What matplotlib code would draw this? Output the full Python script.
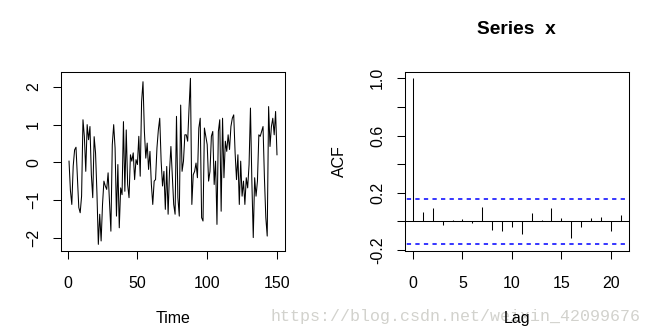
import numpy as np
import matplotlib
matplotlib.use("Agg")
import matplotlib.pyplot as plt

plt.rcParams['font.family'] = ['Liberation Sans', 'DejaVu Sans']

# simulated series x, one value per time step
x_values = [
    0.03, -0.75, -1.12, -0.10, 0.33, 0.40, -0.42, -1.20, -1.34, -0.90,
    1.13, 0.68, -0.24, 1.00, 0.60, 0.95, -0.33, -0.94, 0.68, 0.25,
    -0.81, -2.18, -1.38, -2.09, -1.12, -0.50, -0.63, -0.72, -0.28, -1.03,
    -1.83, 0.47, 1.00, 0.38, -1.43, -0.06, -1.74, -0.68, -0.86, 1.08,
    -0.77, 0.86, -0.59, -0.94, 0.20, 0.03, 0.25, -0.46, 0.07, -0.06,
    0.69, -0.37, 1.61, 2.14, 0.82, 0.11, 0.51, -0.19, 0.29, -0.59,
    -1.12, -0.50, -0.46, 0.38, 0.86, 1.17, 0.03, -0.63, -0.24, -1.25,
    -0.11, -1.38, -0.24, 0.42, -0.33, -1.12, -1.38, 1.22, -0.94, -1.43,
    1.52, -0.24, 0.03, 0.73, 0.73, 0.56, 1.44, 2.23, -1.12, -0.33,
    -0.24, -0.02, -0.41, 0.91, 1.17, -1.47, -1.56, 0.91, 0.69, 0.47,
    -0.50, -0.24, 0.69, 0.82, -0.59, 0.03, -1.65, 0.82, 1.13, -1.30,
    1.17, -0.41, 0.56, 0.29, 0.73, 0.34, 0.95, 1.17, 1.26, 0.25,
    -0.46, 0.20, -1.12, 0.03, -0.90, -0.50, -1.12, -0.41, -0.68, -0.06,
    1.44, -0.50, -2.00, -0.41, -0.90, -0.50, 0.73, 0.69, 0.82, 0.95,
    -0.41, -1.47, -1.96, 1.48, 0.42, 0.95, 1.17, 0.73, 1.35, 0.20,
]
time_index = np.arange(1, len(x_values) + 1)

# sample autocorrelation of x, lags 0..21
lags = list(range(22))
acf_values = [
    1.0, 0.063, 0.093, -0.023, 0.009, 0.016, -0.009, 0.100, -0.060, -0.067,
    -0.037, -0.086, 0.058, 0.009, 0.093, 0.023, -0.114, -0.037, 0.023, 0.033,
    -0.065, 0.047,
]
conf_bound = 0.16

left_xticks = [0, 50, 100, 150]
left_yticks = [-2, -1, 0, 1, 2]
right_xticks = [0, 5, 10, 15, 20]
right_yticks = [-0.2, 0.0, 0.2, 0.4, 0.6, 0.8, 1.0]
right_ylabels = ["-0.2", "", "0.2", "", "0.6", "", "1.0"]

W, H = 652, 334
fig = plt.figure(figsize=(W / 100, H / 100), dpi=100)

FS = 11.5
LW = 0.75
BLUE = '#0000FF'


def px_axes(x0, y0, x1, y1):
    return fig.add_axes([x0 / W, 1 - y1 / H, (x1 - x0) / W, (y1 - y0) / H])


def r_range(lo, hi):
    span = hi - lo
    return lo - 0.04 * span, hi + 0.04 * span


def style(ax):
    for s in ax.spines.values():
        s.set_linewidth(LW)
    ax.tick_params(length=5.9, width=LW, labelsize=FS, colors='black')
    ax.tick_params(axis='x', pad=12)
    ax.tick_params(axis='y', pad=8.2)
    for lab in ax.get_yticklabels():
        lab.set_rotation(90)
        lab.set_va('center')


# time plot
ax1 = px_axes(60.7, 71.7, 285.3, 251)
ax1.plot(time_index, x_values, color='black', lw=LW)
ax1.set_xlim(*r_range(time_index[0], time_index[-1]))
ax1.set_ylim(*r_range(min(x_values), max(x_values)))
ax1.set_xticks(left_xticks)
ax1.set_yticks(left_yticks)
style(ax1)

# ACF plot
ax2 = px_axes(404.7, 71.7, 629, 251)
ax2.vlines(lags, 0, acf_values, color='black', lw=LW)
ax2.axhline(0, color='black', lw=LW)
ax2.hlines([conf_bound, -conf_bound], -5, 30, colors=BLUE, lw=1.1,
           linestyles=[(0, (2.8, 2.8))], zorder=3)
ax2.set_xlim(*r_range(lags[0], lags[-1]))
ax2.set_ylim(*r_range(min(-conf_bound, min(acf_values)), 1.0))
ax2.set_xticks(right_xticks)
ax2.set_yticks(right_yticks)
ax2.set_yticklabels(right_ylabels)
style(ax2)

# blog watermark along the bottom
fig.text(270.7 / W, 1 - 320.7 / H, "https://blog.csdn.net/weixin_42099676",
         family='Liberation Mono', fontsize=12.0, color='#d2d2cd',
         ha='left', va='baseline', zorder=0)

# titles and axis labels
fig.text(516.8 / W, 1 - 34 / H, "Series  x", fontsize=13.8,
         fontweight='bold', ha='center', va='baseline')
fig.text(173 / W, 1 - 323.4 / H, "Time", fontsize=FS, ha='center', va='baseline')
fig.text(516.8 / W, 1 - 323.4 / H, "Lag", fontsize=FS, ha='center',
         va='baseline', zorder=5)
fig.text(346.5 / W, 1 - 161.3 / H, "ACF", fontsize=FS, rotation=90,
         ha='right', va='center')
fig.text(4 / W, 1 - 161.3 / H, "x", fontsize=FS, rotation=90,
         ha='right', va='center')

fig.savefig("out.png", dpi=100)
